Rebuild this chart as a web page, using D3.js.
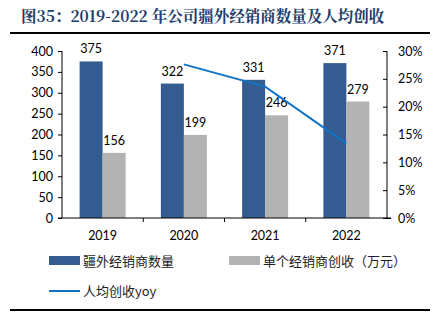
<!DOCTYPE html>
<html>
<head>
<meta charset="utf-8">
<script src="https://cdn.jsdelivr.net/npm/d3@7"></script>
<style>
  body { margin: 0; background: #fff; }
  svg { display: block; }
</style>
</head>
<body>
<svg id="chart" width="433" height="324"></svg>
<script>
// data
const years = ["2019", "2020", "2021", "2022"];
const dealers = [375, 322, 331, 371];
const revenuePerDealer = [156, 199, 246, 279];
const yoy = [null, 27.6, 23.6, 13.4];
const leftTicks = [0, 50, 100, 150, 200, 250, 300, 350, 400];
const rightTicks = [0, 5, 10, 15, 20, 25, 30];

const svg = d3.select("#chart");
const numFont = "Lato, 'Open Sans', sans-serif";
const cjkFont = "'Noto Sans CJK SC', sans-serif";

const plotLeft = 62, plotRight = 387, plotTop = 51, plotBottom = 218;

let x = d3.scaleBand().domain(years).range([plotLeft, plotRight]);
let yL = d3.scaleLinear().domain([0, 400]).range([plotBottom, plotTop]);
let yR = d3.scaleLinear().domain([0, 30]).range([plotBottom, plotTop]);

// title
svg.append("text")
    .attr("x", 21).attr("y", 21.5)
    .attr("font-family", "'Noto Serif CJK SC', 'Noto Sans CJK SC', serif")
    .attr("font-weight", "bold")
    .attr("font-size", 15.5)
    .attr("fill", "#213c6b")
    .text("图35：2019-2022 年公司疆外经销商数量及人均创收");
svg.append("line")
    .attr("x1", 10).attr("x2", 430).attr("y1", 33).attr("y2", 33)
    .attr("stroke", "#000").attr("stroke-width", 2);
svg.append("line")
    .attr("x1", 10).attr("x2", 430).attr("y1", 310).attr("y2", 310)
    .attr("stroke", "#000").attr("stroke-width", 2);

const barW = 23;

// bars
svg.selectAll("rect.dealer")
    .data(years)
    .enter()
    .append("rect")
    .attr("class", "dealer")
    .attr("x", (d) => x(d) + x.bandwidth() / 2 - barW)
    .attr("width", barW)
    .attr("y", (d, i) => yL(dealers[i]))
    .attr("height", (d, i) => plotBottom - yL(dealers[i]))
    .attr("fill", "#355c91");

svg.selectAll("rect.rev")
    .data(years)
    .enter()
    .append("rect")
    .attr("class", "rev")
    .attr("x", (d) => x(d) + x.bandwidth() / 2)
    .attr("width", barW)
    .attr("y", (d, i) => yL(revenuePerDealer[i]))
    .attr("height", (d, i) => plotBottom - yL(revenuePerDealer[i]))
    .attr("fill", "#b3b3b3");

// value labels
svg.selectAll("text.dl")
    .data(years)
    .enter()
    .append("text")
    .attr("x", (d) => x(d) + x.bandwidth() / 2 - barW / 2)
    .attr("y", (d, i) => yL(dealers[i]) - 8)
    .attr("text-anchor", "middle")
    .attr("font-family", numFont)
    .attr("font-size", 12.5)
    .attr("fill", "#000")
    .text((d, i) => dealers[i]);

svg.selectAll("text.rl")
    .data(years)
    .enter()
    .append("text")
    .attr("x", (d) => x(d) + x.bandwidth() / 2 + barW / 2)
    .attr("y", (d, i) => yL(revenuePerDealer[i]) - 8)
    .attr("text-anchor", "middle")
    .attr("font-family", numFont)
    .attr("font-size", 12.5)
    .attr("fill", "#000")
    .text((d, i) => revenuePerDealer[i]);

// yoy line
const line = d3.line()
    .defined((d) => d != null)
    .x((d, i) => x(years[i]) + x.bandwidth() / 2)
    .y((d) => yR(d));
svg.append("path")
    .datum(yoy)
    .attr("d", line)
    .attr("fill", "none")
    .attr("stroke", "#1273c4")
    .attr("stroke-width", 2);

// axes
let leftAxis = d3.axisLeft(yL).tickValues(leftTicks).tickSize(4).tickPadding(5);
let gL = svg.append("g").attr("transform", `translate(${plotLeft},0)`).call(leftAxis);
let rightAxis = d3.axisRight(yR).tickValues(rightTicks).tickSize(4).tickPadding(7)
    .tickFormat((d) => d + "%");
let gR = svg.append("g").attr("transform", `translate(${plotRight},0)`).call(rightAxis);

for (const g of [gL, gR]) {
    g.select(".domain").attr("stroke", "#000").attr("d", `M0,${plotTop}V${plotBottom}`);
    g.selectAll(".tick line").attr("stroke", "#000");
    g.selectAll(".tick text")
        .attr("font-family", numFont)
        .attr("font-size", 12.5)
        .attr("fill", "#000");
}
gR.selectAll(".tick line").attr("x1", -4).attr("x2", 0);
gR.selectAll(".tick").filter((d) => d === 0).select("line").attr("x1", -4).attr("x2", 4);

// x axis
svg.append("line")
    .attr("x1", plotLeft - 4).attr("x2", plotRight + 4)
    .attr("y1", plotBottom).attr("y2", plotBottom)
    .attr("stroke", "#000");
svg.selectAll("line.xt")
    .data(years.slice(1))
    .enter()
    .append("line")
    .attr("x1", (d) => x(d)).attr("x2", (d) => x(d))
    .attr("y1", plotBottom).attr("y2", plotBottom + 4)
    .attr("stroke", "#000");
svg.selectAll("text.xl")
    .data(years)
    .enter()
    .append("text")
    .attr("x", (d) => x(d) + x.bandwidth() / 2)
    .attr("y", plotBottom + 22)
    .attr("text-anchor", "middle")
    .attr("font-family", numFont)
    .attr("font-size", 12.5)
    .attr("fill", "#000")
    .text((d) => d);

// legend
let legend = svg.append("g");
legend.append("rect").attr("x", 49).attr("y", 256).attr("width", 31).attr("height", 9).attr("fill", "#355c91");
legend.append("text").attr("x", 83).attr("y", 265.5)
    .attr("font-family", cjkFont).attr("font-size", 13).attr("fill", "#222")
    .text("疆外经销商数量");
legend.append("rect").attr("x", 229).attr("y", 256).attr("width", 31).attr("height", 9).attr("fill", "#b3b3b3");
legend.append("text").attr("x", 263).attr("y", 265.5)
    .attr("font-family", cjkFont).attr("font-size", 13).attr("fill", "#222")
    .text("单个经销商创收（万元）");
legend.append("line").attr("x1", 49).attr("x2", 80).attr("y1", 291).attr("y2", 291)
    .attr("stroke", "#1273c4").attr("stroke-width", 2);
legend.append("text").attr("x", 83).attr("y", 296)
    .attr("font-family", cjkFont).attr("font-size", 13).attr("fill", "#222")
    .text("人均创收yoy");
</script>
</body>
</html>
